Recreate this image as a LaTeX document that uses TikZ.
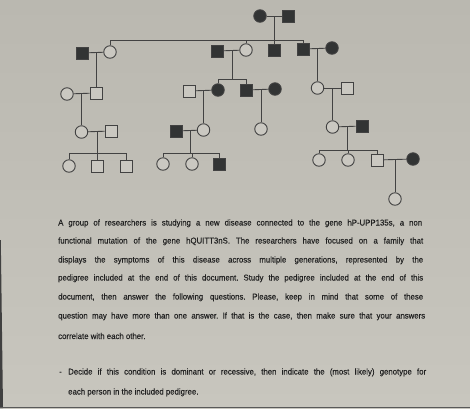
\documentclass[tikz,border=0pt]{standalone}
\usepackage{fontspec}
\setmainfont{Liberation Sans}
\newfontfamily\docfont[FakeStretch=0.93,FakeBold=0.3]{Liberation Sans}
\usetikzlibrary{calc}
\definecolor{paperT}{RGB}{186,184,176}
\definecolor{paperB}{RGB}{200,198,190}
\definecolor{ink}{RGB}{66,66,66}
\definecolor{aff}{RGB}{50,52,52}
\definecolor{txt}{RGB}{34,34,34}
\frenchspacing
\begin{document}
\begin{tikzpicture}[x=1pt,y=-1pt,
  ped/.style={draw=ink,line width=0.9pt,inner sep=0pt,fill=paperB!96!white},
  msq/.style={ped,rectangle,minimum size=12pt},
  fcirc/.style={ped,circle,minimum size=12.5pt},
  aff/.style={fill=aff},
  link/.style={draw=ink,line width=0.9pt},
  txtline/.style={anchor=base west,inner sep=0pt,text=txt,font=\docfont\fontsize{8.4}{9}\selectfont}]
\useasboundingbox (0,0) rectangle (470,408);
\shade[top color=paperT,bottom color=paperB] (0,0) rectangle (470,408);
\fill[black!75] (0,240) -- (0.8,240) -- (3,408) -- (0,408) -- cycle;
\fill[black!65] (0,406.5) rectangle (470,408);

% Generation I
\node[fcirc,aff] (I1) at (260,16) {};
\node[msq,aff] (I2) at (288,16) {};
% Generation II
\node[msq,aff] (II1) at (82,53) {};
\node[fcirc] (II2) at (110,52) {};
\node[msq,aff] (II3) at (217,51) {};
\node[fcirc] (II4) at (246,50) {};
\node[msq,aff] (II5) at (274,50) {};
\node[msq,aff] (II6) at (303,49) {};
\node[fcirc,aff] (II7) at (332,48) {};
% Generation III
\node[fcirc] (III1) at (67,94) {};
\node[msq] (III2) at (96,93) {};
\node[msq] (III3) at (189,91) {};
\node[fcirc,aff] (III4) at (218,90) {};
\node[msq,aff] (III5) at (246,90) {};
\node[fcirc,aff] (III6) at (275,89) {};
\node[fcirc] (III7) at (317.5,88) {};
\node[msq] (III8) at (347,88) {};
% Generation IV
\node[fcirc] (IV1) at (81.5,132) {};
\node[msq] (IV2) at (111,131) {};
\node[msq,aff] (IV3) at (176,131) {};
\node[fcirc] (IV4) at (203.5,130) {};
\node[fcirc] (IV5) at (261,129) {};
\node[fcirc] (IV6) at (332.5,127) {};
\node[msq,aff] (IV7) at (362,126) {};
% Generation V
\node[fcirc] (V1) at (69,166) {};
\node[msq] (V2) at (97,166) {};
\node[msq] (V3) at (126,166) {};
\node[fcirc] (V4) at (163,164) {};
\node[fcirc] (V5) at (192,164) {};
\node[msq,aff] (V6) at (219,164) {};
\node[fcirc] (V7) at (319,160) {};
\node[fcirc] (V8) at (348,160) {};
\node[msq] (V9) at (377,160) {};
\node[fcirc,aff] (V10) at (413,159) {};
% Generation VI
\node[fcirc] (VI1) at (395,199) {};

% marriages
\draw[link] (I1) -- (I2);
\draw[link] (II1) -- (II2);
\draw[link] (II3) -- (II4);
\draw[link] (II6) -- (II7);
\draw[link] (III1) -- (III2);
\draw[link] (III3) -- (III4);
\draw[link] (III5) -- (III6);
\draw[link] (III7) -- (III8);
\draw[link] (IV1) -- (IV2);
\draw[link] (IV3) -- (IV4);
\draw[link] (IV6) -- (IV7);
\draw[link] (V9) -- (V10);

% mating points
\coordinate (mI) at (274,16);
\coordinate (mII12) at (96,52.5);
\coordinate (mII34) at (232,50.5);
\coordinate (mII67) at (317.5,48.5);
\coordinate (mIII12) at (81.5,93.5);
\coordinate (mIII34) at (203.5,90.5);
\coordinate (mIII56) at (261,89.5);
\coordinate (mIII78) at (332.5,88);
\coordinate (mIV12) at (97,131.5);
\coordinate (mIV34) at (190,130.5);
\coordinate (mIV67) at (347,126.5);
\coordinate (mV910) at (395,159.5);
% sibship levels
\coordinate (sI) at (0,40);
\coordinate (sII) at (0,79);
\coordinate (sIVa) at (0,153);
\coordinate (sIVb) at (0,153);
\coordinate (sIVc) at (0,150);

% Generation I offspring
\draw[link] (mI) -- (mI |- sI);
\draw[link] (II2.north) -- (II2.north |- sI) -- (II6.north |- sI) -- (II6.north);
\draw[link] (II4.north) -- (II4.north |- sI);
\draw[link] (II5.north) -- (II5.north |- sI);
% single-child descents
\draw[link] (mII12) -- (III2.north);
\draw[link] (mII67) -- (III7.north);
\draw[link] (mIII12) -- (IV1.north);
\draw[link] (mIII34) -- (IV4.north);
\draw[link] (mIII56) -- (IV5.north);
\draw[link] (mIII78) -- (IV6.north);
\draw[link] (mV910) -- (VI1.north);
% II3 x II4 offspring
\draw[link] (mII34) -- (mII34 |- sII);
\draw[link] (III4.north) -- (III4.north |- sII) -- (III5.north |- sII) -- (III5.north);
% IV1 x IV2 offspring
\draw[link] (mIV12) -- (mIV12 |- sIVa);
\draw[link] (V1.north) -- (V1.north |- sIVa) -- (V3.north |- sIVa) -- (V3.north);
\draw[link] (V2.north) -- (V2.north |- sIVa);
% IV3 x IV4 offspring
\draw[link] (mIV34) -- (mIV34 |- sIVb);
\draw[link] (V4.north) -- (V4.north |- sIVb) -- (V6.north |- sIVb) -- (V6.north);
\draw[link] (V5.north) -- (V5.north |- sIVb);
% IV6 x IV7 offspring
\draw[link] (mIV67) -- (mIV67 |- sIVc);
\draw[link] (V7.north) -- (V7.north |- sIVc) -- (V9.north |- sIVc) -- (V9.north);
\draw[link] (V8.north) -- (V8.north |- sIVc);

% text
\node[txtline] (t1) at (58,225.5) {\makebox[364pt][s]{A group of researchers is studying a new disease connected to the gene hP-UPP135s, a non}};
\node[txtline] (t2) at (58,243.5) {\makebox[365pt][s]{functional mutation of the gene hQUITT3nS. The researchers have focused on a family that}};
\node[txtline] (t3) at (58,262.5) {\makebox[365pt][s]{displays the symptoms of this disease across multiple generations, represented by the}};
\node[txtline] (t4) at (58,280.5) {\makebox[365pt][s]{pedigree included at the end of this document. Study the pedigree included at the end of this}};
\node[txtline] (t5) at (58,299.5) {\makebox[365pt][s]{document, then answer the following questions. Please, keep in mind that some of these}};
\node[txtline] (t6) at (58,318.5) {\makebox[367pt][s]{question may have more than one answer. If that is the case, then make sure that your answers}};
\node[txtline] (t7) at (58,339) {correlate with each other.};
\node[txtline] (t8) at (59,374.5) {-};
\node[txtline] (t9) at (68,374.5) {\makebox[358pt][s]{Decide if this condition is dominant or recessive, then indicate the (most likely) genotype for}};
\node[txtline] (t10) at (68,394.5) {each person in the included pedigree.};
\end{tikzpicture}
\end{document}
